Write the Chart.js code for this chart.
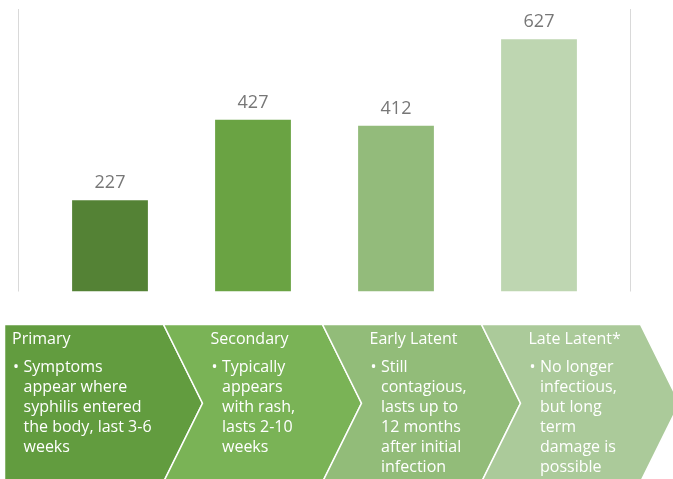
<!DOCTYPE html>
<html>
<head>
<meta charset="utf-8">
<title>Syphilis cases by stage</title>
<script src="https://cdn.jsdelivr.net/npm/chart.js@4.4.1/dist/chart.umd.min.js"></script>
<style>
    html, body { margin: 0; padding: 0; background: #ffffff; }
    #wrap { position: relative; width: 673px; height: 479px; overflow: hidden; }
    #chartBox { position: absolute; left: 0; top: 0; width: 673px; height: 300px; }
    #stages { position: absolute; left: 0; top: 0; }
    #stages text { font-family: "Open Sans", sans-serif; font-size: 16px; fill: #ffffff; }
</style>
</head>
<body>
<div id="wrap">
    <div id="chartBox"><canvas id="stageChart"></canvas></div>
    <svg id="stages" width="673" height="479"></svg>
</div>
<script>
// Stage names, case counts and colours
const stages = ['Primary', 'Secondary', 'Early Latent', 'Late Latent*'];
const cases = [227, 427, 412, 627];
const barColors = ['#548235', '#6AA343', '#93BB7B', '#BED6B1'];
const arrowColors = ['#629C3F', '#7AB356', '#92BC79', '#ABCA9A'];
const yMin = 0;
const yMax = 700;

// Bullet text shown under each stage
const descriptions = [
    ['Symptoms', 'appear where', 'syphilis entered', 'the body, last 3-6', 'weeks'],
    ['Typically', 'appears', 'with rash,', 'lasts 2-10', 'weeks'],
    ['Still', 'contagious,', 'lasts up to', '12 months', 'after initial', 'infection'],
    ['No longer', 'infectious,', 'but long', 'term', 'damage is', 'possible']
];

// Thin vertical rules on either side of the plot
const sideRules = {
    id: 'sideRules',
    beforeDatasetsDraw(chart) {
        const { ctx, chartArea } = chart;
        ctx.save();
        ctx.strokeStyle = '#D9D9D9';
        ctx.lineWidth = 1;
        [chartArea.left - 20, chartArea.right + 20].forEach(function(x) {
            ctx.beginPath();
            ctx.moveTo(x, chartArea.top - 1);
            ctx.lineTo(x, chartArea.bottom);
            ctx.stroke();
        });
        ctx.restore();
    }
};

// Value labels above the bars
const valueLabels = {
    id: 'valueLabels',
    afterDatasetsDraw(chart) {
        const { ctx } = chart;
        const meta = chart.getDatasetMeta(0);
        ctx.save();
        ctx.font = '18px "Open Sans", sans-serif';
        ctx.fillStyle = '#777777';
        ctx.textAlign = 'center';
        ctx.textBaseline = 'alphabetic';
        meta.data.forEach(function(bar, i) {
            ctx.fillText(String(cases[i]), bar.x, bar.y - 12);
        });
        ctx.restore();
    }
};

function initStageChart() {
    const ctx = document.getElementById('stageChart').getContext('2d');
    new Chart(ctx, {
        type: 'bar',
        data: {
            labels: stages,
            datasets: [{
                data: cases,
                backgroundColor: barColors,
                borderWidth: 0,
                categoryPercentage: 1,
                barPercentage: 0.53
            }]
        },
        options: {
            responsive: true,
            maintainAspectRatio: false,
            animation: false,
            layout: { padding: { left: 38.5, right: 62.5, top: 10, bottom: 8.5 } },
            plugins: {
                legend: { display: false },
                tooltip: { enabled: false }
            },
            scales: {
                x: { display: false },
                y: { display: false, min: yMin, max: yMax }
            }
        },
        plugins: [sideRules, valueLabels]
    });
}

// Chevron process strip under the chart
function drawStages() {
    const svg = document.getElementById('stages');
    const ns = 'http://www.w3.org/2000/svg';
    const top = 324.5, bottom = 482, mid = (top + bottom) / 2;
    const step = 159, tip = 39, start = 4.5;

    stages.forEach(function(name, i) {
        const left = start + step * i;
        const right = left + step;
        const pts = [[left, top], [right, top], [right + tip, mid], [right, bottom], [left, bottom]];
        if (i > 0) pts.push([left + tip, mid]);

        const poly = document.createElementNS(ns, 'polygon');
        poly.setAttribute('points', pts.map(p => p.join(',')).join(' '));
        poly.setAttribute('fill', arrowColors[i]);
        poly.setAttribute('stroke', '#ffffff');
        poly.setAttribute('stroke-width', '1.5');
        svg.appendChild(poly);

        const textX = i === 0 ? left + 7.5 : left + tip + 8;
        const title = document.createElementNS(ns, 'text');
        title.setAttribute('x', textX);
        title.setAttribute('y', 343.5);
        title.textContent = name;
        svg.appendChild(title);

        const bullet = document.createElementNS(ns, 'text');
        bullet.setAttribute('x', textX + 1);
        bullet.setAttribute('y', 371.5);
        bullet.textContent = '•';
        svg.appendChild(bullet);

        descriptions[i].forEach(function(line, j) {
            const t = document.createElementNS(ns, 'text');
            t.setAttribute('x', textX + 11.5);
            t.setAttribute('y', 371.5 + j * 20.1);
            t.textContent = line;
            svg.appendChild(t);
        });
    });
}

document.addEventListener('DOMContentLoaded', function() {
    initStageChart();
    drawStages();
});
</script>
</body>
</html>
